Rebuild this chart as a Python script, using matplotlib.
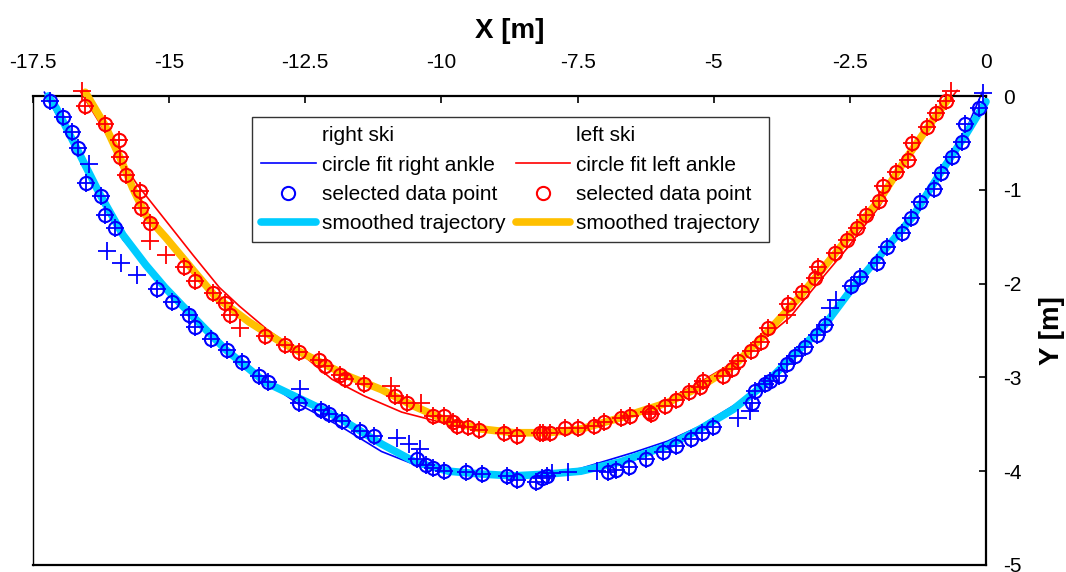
import matplotlib
matplotlib.use("Agg")
import matplotlib.pyplot as plt
from matplotlib.lines import Line2D
from matplotlib.ticker import FixedLocator, FuncFormatter
import numpy as np

plt.rcParams["font.family"] = ["Liberation Sans", "DejaVu Sans"]
plt.rcParams["axes.unicode_minus"] = False

# ---- right ski: raw ankle positions (x, y) and whether each was selected ----
right_x = [-17.18, -16.95, -16.78, -16.67, -16.47, -16.53, -16.25, -16.18, -16.00, -16.14,
           -15.89, -15.59, -15.23, -14.94, -14.63, -14.53, -14.24, -13.93, -13.66, -13.35,
           -13.18, -12.60, -12.61, -12.21, -12.07, -11.83, -11.50, -11.24, -10.82, -10.60,
           -10.40, -10.44, -10.29, -10.15, -9.95, -9.54, -9.25, -8.79, -8.61, -8.26,
           -8.15, -8.06, -7.97, -7.68, -7.15, -6.95, -6.80, -6.56, -6.25, -5.94,
           -5.69, -5.41, -5.21, -5.01, -4.55, -4.33, -4.30, -4.24, -4.06, -3.97,
           -3.80, -3.66, -3.51, -3.33, -3.11, -2.96, -2.87, -2.76, -2.47, -2.32,
           -2.01, -1.81, -1.55, -1.37, -1.22, -0.95, -0.82, -0.62, -0.44, -0.38,
           -0.13, -0.05]
right_y = [-0.05, -0.22, -0.38, -0.55, -0.72, -0.93, -1.07, -1.27, -1.41, -1.65,
           -1.78, -1.91, -2.06, -2.20, -2.33, -2.46, -2.59, -2.71, -2.84, -2.98,
           -3.05, -3.12, -3.27, -3.35, -3.39, -3.47, -3.57, -3.63, -3.65, -3.71,
           -3.76, -3.87, -3.93, -3.97, -4.00, -4.01, -4.03, -4.05, -4.09, -4.11,
           -4.07, -4.05, -4.02, -4.01, -4.00, -4.01, -3.99, -3.95, -3.87, -3.80,
           -3.73, -3.66, -3.59, -3.53, -3.43, -3.36, -3.27, -3.15, -3.07, -3.04,
           -2.98, -2.86, -2.77, -2.68, -2.55, -2.44, -2.26, -2.17, -2.03, -1.93,
           -1.78, -1.61, -1.46, -1.30, -1.13, -0.99, -0.82, -0.65, -0.49, -0.30,
           -0.13, 0.03]
right_selected = [1, 1, 1, 1, 0, 1, 1, 1, 1, 0,
                  0, 0, 1, 1, 1, 1, 1, 1, 1, 1,
                  1, 0, 1, 1, 1, 1, 1, 1, 0, 0,
                  0, 1, 1, 1, 1, 1, 1, 1, 1, 1,
                  1, 1, 0, 0, 0, 1, 1, 1, 1, 1,
                  1, 1, 1, 1, 0, 0, 1, 1, 1, 1,
                  1, 1, 1, 1, 1, 1, 0, 0, 1, 1,
                  1, 1, 1, 1, 1, 1, 1, 1, 1, 1,
                  1, 0]

# circle fit of the right ankle
right_fit_x = [-17.29, -16.76, -16.31, -15.85, -15.30, -14.75, -14.02, -13.29, -12.61, -11.83,
               -11.10, -10.49, -9.87, -9.27, -8.67, -8.04, -7.44, -6.47, -5.85, -5.25,
               -4.52, -3.97, -3.42, -2.87, -2.32, -1.77, -1.22, -0.68, -0.35, -0.07]
right_fit_y = [0.04, -0.52, -1.05, -1.53, -1.90, -2.22, -2.65, -3.02, -3.29, -3.53,
               -3.79, -3.93, -4.01, -4.05, -4.05, -4.02, -3.97, -3.80, -3.68, -3.52,
               -3.26, -3.00, -2.72, -2.37, -1.99, -1.60, -1.16, -0.68, -0.34, 0.04]

# smoothed trajectory of the right ski
right_smooth_x = [-17.22, -17.07, -16.67, -16.27, -15.85, -15.43, -15.08, -14.75, -13.97, -13.24,
                  -12.19, -11.83, -11.10, -10.49, -9.87, -9.27, -8.67, -8.04, -7.44, -6.71,
                  -5.85, -5.25, -4.64, -4.02, -3.42, -2.96, -2.47, -1.96, -1.35, -0.86,
                  -0.37, 0.00]
right_smooth_y = [0.00, -0.13, -0.59, -1.05, -1.48, -1.80, -2.04, -2.24, -2.70, -3.05,
                  -3.34, -3.45, -3.71, -3.90, -4.00, -4.03, -4.05, -4.03, -4.00, -3.90,
                  -3.73, -3.55, -3.34, -3.05, -2.70, -2.44, -2.06, -1.71, -1.29, -0.84,
                  -0.41, -0.06]

# ---- left ski ----
left_x = [-16.60, -16.54, -16.18, -15.92, -15.90, -15.80, -15.54, -15.52, -15.36, -15.36,
          -15.05, -14.72, -14.52, -14.19, -13.97, -13.89, -13.69, -13.24, -12.87, -12.61,
          -12.25, -12.14, -11.86, -11.77, -11.43, -10.93, -10.86, -10.64, -10.37, -10.15,
          -9.95, -9.78, -9.71, -9.51, -9.31, -8.85, -8.61, -8.19, -8.14, -8.01,
          -7.73, -7.50, -7.20, -7.02, -6.71, -6.53, -6.18, -6.16, -5.89, -5.70,
          -5.45, -5.25, -5.19, -4.83, -4.66, -4.55, -4.31, -4.13, -4.00, -3.66,
          -3.64, -3.38, -3.14, -3.09, -2.78, -2.56, -2.36, -2.21, -1.96, -1.90,
          -1.65, -1.44, -1.35, -1.08, -0.91, -0.73, -0.64]
left_y = [0.05, -0.11, -0.30, -0.47, -0.65, -0.84, -1.01, -1.19, -1.35, -1.55,
          -1.69, -1.82, -1.97, -2.10, -2.21, -2.33, -2.47, -2.56, -2.65, -2.73,
          -2.81, -2.88, -2.97, -3.02, -3.07, -3.09, -3.20, -3.27, -3.27, -3.41,
          -3.41, -3.48, -3.52, -3.53, -3.56, -3.59, -3.62, -3.59, -3.59, -3.59,
          -3.54, -3.54, -3.52, -3.48, -3.43, -3.41, -3.37, -3.39, -3.31, -3.24,
          -3.16, -3.10, -3.04, -2.99, -2.91, -2.82, -2.72, -2.62, -2.47, -2.34,
          -2.22, -2.09, -1.94, -1.82, -1.67, -1.53, -1.41, -1.27, -1.12, -0.96,
          -0.81, -0.68, -0.50, -0.33, -0.18, -0.05, 0.05]
left_selected = [0, 1, 1, 1, 1, 1, 1, 1, 1, 0,
                 0, 1, 1, 1, 1, 1, 0, 1, 1, 1,
                 1, 1, 1, 1, 1, 0, 1, 1, 0, 1,
                 1, 1, 1, 1, 1, 1, 1, 1, 1, 1,
                 1, 1, 1, 1, 1, 1, 1, 1, 1, 1,
                 1, 1, 1, 1, 1, 1, 1, 1, 1, 0,
                 1, 1, 1, 1, 1, 1, 1, 1, 1, 1,
                 1, 1, 1, 1, 1, 1, 0]

left_fit_x = [-16.62, -16.22, -15.89, -15.58, -15.06, -14.57, -14.08, -13.71, -13.20, -12.61,
              -12.01, -11.41, -10.73, -9.87, -9.09, -8.35, -7.62, -6.71, -5.85, -5.25,
              -4.64, -4.02, -3.60, -3.18, -2.56, -1.96, -1.46, -0.99, -0.53]
left_fit_y = [0.04, -0.34, -0.68, -0.95, -1.33, -1.69, -2.04, -2.24, -2.49, -2.73,
              -3.02, -3.20, -3.37, -3.50, -3.57, -3.60, -3.57, -3.43, -3.24, -3.05,
              -2.84, -2.56, -2.36, -2.06, -1.63, -1.18, -0.65, -0.28, 0.06]

left_smooth_x = [-16.54, -16.18, -15.90, -15.67, -15.43, -15.06, -14.70, -14.15, -13.53, -12.93,
                 -12.32, -11.70, -11.10, -10.49, -9.87, -9.27, -8.67, -8.04, -7.44, -6.71,
                 -5.85, -5.25, -4.64, -4.02, -3.42, -2.56, -1.96, -1.46, -1.04, -0.68]
left_smooth_y = [0.04, -0.31, -0.66, -0.98, -1.27, -1.51, -1.76, -2.14, -2.41, -2.63,
                 -2.81, -2.99, -3.13, -3.31, -3.47, -3.55, -3.59, -3.59, -3.55, -3.43,
                 -3.27, -3.10, -2.88, -2.52, -2.14, -1.53, -1.11, -0.66, -0.31, -0.02]

x_ticks = [-17.5, -15, -12.5, -10, -7.5, -5, -2.5, 0]
y_ticks = [0, -1, -2, -3, -4, -5]

BLUE = "#0000FF"
RED = "#FF0000"
CYAN = "#00CCFF"
GOLD = "#FFC000"

fig = plt.figure(figsize=(10.66, 5.72), dpi=100)
ax = fig.add_axes([33 / 1066, 7 / 572, 953 / 1066, 469 / 572])

rsel = np.array(right_selected, dtype=bool)
lsel = np.array(left_selected, dtype=bool)
rx, ry = np.array(right_x), np.array(right_y)
lx, ly = np.array(left_x), np.array(left_y)

# circle fits (thin lines)
ax.plot(right_fit_x, right_fit_y, color=BLUE, lw=1.2, zorder=2, clip_on=False)
ax.plot(left_fit_x, left_fit_y, color=RED, lw=1.2, zorder=2, clip_on=False)
# smoothed trajectories (thick lines)
ax.plot(right_smooth_x, right_smooth_y, color=CYAN, lw=5.5, zorder=3,
        solid_capstyle="round", clip_on=False)
ax.plot(left_smooth_x, left_smooth_y, color=GOLD, lw=5.5, zorder=3,
        solid_capstyle="round", clip_on=False)
# raw ankle positions
ax.plot(rx, ry, linestyle="none", marker="+", ms=13, mew=1.3, color=BLUE, zorder=4, clip_on=False)
ax.plot(lx, ly, linestyle="none", marker="+", ms=13, mew=1.3, color=RED, zorder=4, clip_on=False)
# selected data points
ax.plot(rx[rsel], ry[rsel], linestyle="none", marker="o", ms=9.5, mew=1.5,
        mfc="none", mec=BLUE, zorder=5, clip_on=False)
ax.plot(lx[lsel], ly[lsel], linestyle="none", marker="o", ms=9.5, mew=1.5,
        mfc="none", mec=RED, zorder=5, clip_on=False)

ax.set_xlim(-17.5, 0)
ax.set_ylim(-5, 0)

ax.xaxis.tick_top()
ax.xaxis.set_label_position("top")
ax.yaxis.tick_right()
ax.yaxis.set_label_position("right")
ax.xaxis.set_major_locator(FixedLocator(x_ticks))
ax.yaxis.set_major_locator(FixedLocator(y_ticks))
fmt = FuncFormatter(lambda v, p: "{:g}".format(v))
ax.xaxis.set_major_formatter(fmt)
ax.yaxis.set_major_formatter(fmt)
ax.tick_params(axis="x", direction="in", length=5, width=1.2, labelsize=15, pad=17)
ax.tick_params(axis="y", direction="in", length=5, width=1.2, labelsize=15, pad=12)

for side in ["top", "right", "bottom"]:
    ax.spines[side].set_linewidth(1.6)
ax.spines["left"].set_linewidth(1.0)

ax.set_xlabel("X [m]", fontsize=20, fontweight="bold", labelpad=11)
ax.set_ylabel("Y [m]", fontsize=20, fontweight="bold", labelpad=13, rotation=90)

blank = Line2D([], [], linestyle="none")
handles = [
    blank,
    Line2D([], [], color=BLUE, lw=1.2),
    Line2D([], [], linestyle="none", marker="o", ms=9.5, mew=1.5, mfc="none", mec=BLUE),
    Line2D([], [], color=CYAN, lw=5.5, solid_capstyle="round"),
    blank,
    Line2D([], [], color=RED, lw=1.2),
    Line2D([], [], linestyle="none", marker="o", ms=9.5, mew=1.5, mfc="none", mec=RED),
    Line2D([], [], color=GOLD, lw=5.5, solid_capstyle="round"),
]
labels = ["right ski", "circle fit right ankle", "selected data point", "smoothed trajectory",
          "left ski", "circle fit left ankle", "selected data point", "smoothed trajectory"]
leg = ax.legend(handles, labels, ncol=2, loc="upper left",
                bbox_to_anchor=(219 / 953, 448 / 469), borderaxespad=0,
                fontsize=15, frameon=True, fancybox=False, shadow=False,
                handlelength=2.6, handletextpad=0.3, columnspacing=0.5,
                labelspacing=0.49, borderpad=0.45)
leg.get_frame().set_edgecolor("black")
leg.get_frame().set_linewidth(1.0)

fig.savefig("out.png", dpi=100)
